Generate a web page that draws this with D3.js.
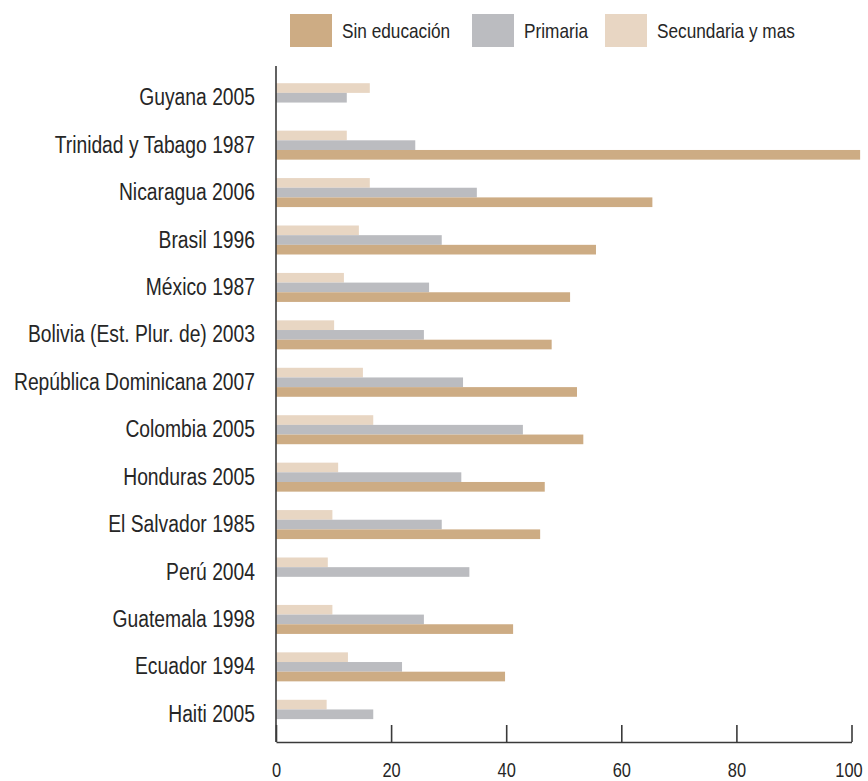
<!DOCTYPE html>
<html>
<head>
<meta charset="utf-8">
<script src="https://cdn.jsdelivr.net/npm/d3@7"></script>
<style>
  body { margin: 0; background: #fff; }
  svg text { font-family: "Liberation Sans", Arial, sans-serif; fill: #262626; }
</style>
</head>
<body>
<div id="chart"></div>
<script>
// categories, top to bottom
const countries = [
  'Guyana 2005', 'Trinidad y Tabago 1987', 'Nicaragua 2006', 'Brasil 1996',
  'México 1987', 'Bolivia (Est. Plur. de) 2003', 'República Dominicana 2007',
  'Colombia 2005', 'Honduras 2005', 'El Salvador 1985', 'Perú 2004',
  'Guatemala 1998', 'Ecuador 1994', 'Haiti 2005'
];

const sinEducacion = [null, 101.5, 65.4, 55.6, 51.1, 47.9, 52.3, 53.4, 46.7, 45.9, null, 41.2, 39.8, null];
const primaria     = [12.3, 24.2, 34.9, 28.8, 26.6, 25.7, 32.5, 42.9, 32.2, 28.8, 33.6, 25.7, 21.9, 16.9];
const secundaria   = [16.3, 12.3, 16.3, 14.4, 11.8, 10.1, 15.1, 16.9, 10.8, 9.8, 9.0, 9.8, 12.5, 8.8];

const seriesNames = ['Sin educación', 'Primaria', 'Secundaria y mas'];
const xTicks = [0, 20, 40, 60, 80, 100];

const width = 868;
const height = 781;
const colors = { 'Sin educación': '#cdac84', 'Primaria': '#bbbcc0', 'Secundaria y mas': '#e8d6c3' };

const svg = d3.select('#chart')
  .append('svg')
  .attr('width', width)
  .attr('height', height);

const x = d3.scaleLinear()
  .domain([0, 100])
  .range([276, 851.5]);

const y0 = d3.scaleBand()
  .domain(countries)
  .range([74, 738]);

// bars inside a group: secundaria on top, sin educacion at the bottom
const barOrder = ['Secundaria y mas', 'Primaria', 'Sin educación'];
const y1 = d3.scaleBand()
  .domain(barOrder)
  .range([y0.bandwidth() / 2 - 14.5, y0.bandwidth() / 2 + 14.5]);

const rows = countries.map((c, i) => ({
  country: c,
  values: [
    { key: 'Secundaria y mas', value: secundaria[i] },
    { key: 'Primaria', value: primaria[i] },
    { key: 'Sin educación', value: sinEducacion[i] }
  ].filter(d => d.value != null)
}));

const groups = svg.append('g')
  .selectAll('g')
  .data(rows)
  .join('g')
  .attr('transform', d => `translate(0,${y0(d.country)})`);

groups.selectAll('rect')
  .data(d => d.values)
  .join('rect')
  .attr('x', x(0))
  .attr('y', d => y1(d.key))
  .attr('width', d => x(d.value) - x(0))
  .attr('height', y1.bandwidth())
  .attr('fill', d => colors[d.key]);

// category labels
svg.append('g')
  .attr('transform', `translate(${x(0)},0)`)
  .call(d3.axisLeft(y0).tickSize(0).tickPadding(21))
  .call(g => g.select('.domain').remove())
  .call(g => g.selectAll('text')
    .attr('font-size', 23.5)
    .attr('fill', '#262626')
    .attr('font-family', null));

// y axis line
svg.append('line')
  .attr('x1', x(0)).attr('x2', x(0))
  .attr('y1', 66).attr('y2', 742)
  .attr('stroke', '#3a3a3a')
  .attr('stroke-width', 1.6);

// x axis, ticks pointing up
svg.append('g')
  .attr('transform', 'translate(0,742)')
  .call(d3.axisBottom(x).tickValues(xTicks).tickSize(-17).tickSizeOuter(0).tickPadding(20.5))
  .call(g => g.select('.domain').attr('stroke', '#3a3a3a').attr('stroke-width', 1.6))
  .call(g => g.selectAll('.tick line').attr('stroke', '#3a3a3a').attr('stroke-width', 1.6))
  .call(g => g.selectAll('text')
    .attr('font-size', 20)
    .attr('fill', '#262626')
    .attr('font-family', null))
  // keep "100" inside the right edge
  .call(g => g.selectAll('.tick text').filter(d => d === 100).attr('dx', -3));

// legend
const legendX = [290, 472, 605];
const legend = svg.append('g')
  .selectAll('g')
  .data(seriesNames)
  .join('g')
  .attr('transform', (d, i) => `translate(${legendX[i]},14)`);

legend.append('rect')
  .attr('width', 42)
  .attr('height', 33)
  .attr('fill', d => colors[d]);

legend.append('text')
  .attr('x', 52)
  .attr('y', 24)
  .attr('font-size', 21)
  .text(d => d);

// the original uses a narrow face; squeeze the glyphs to match
svg.selectAll('text').each(function() {
  const len = this.getComputedTextLength();
  d3.select(this)
    .attr('textLength', len * 0.82)
    .attr('lengthAdjust', 'spacingAndGlyphs');
});
</script>
</body>
</html>
